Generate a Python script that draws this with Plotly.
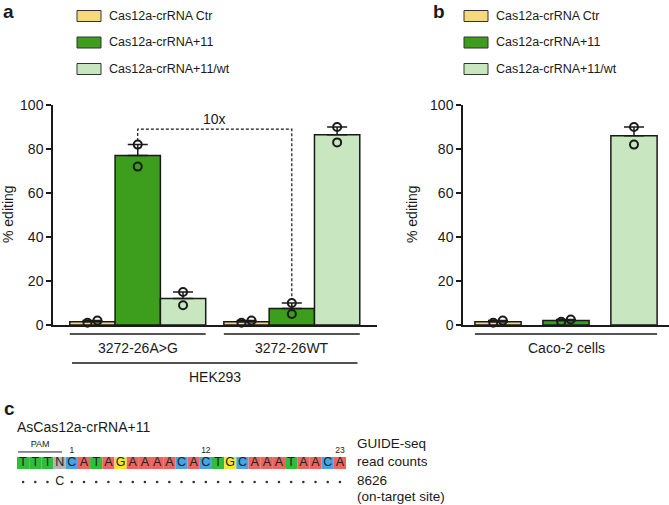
import numpy as np
import plotly.graph_objects as go

W, H = 669, 505
FONT = "Liberation Sans, Arial, sans-serif"

# ---- data ----
series = ["Cas12a-crRNA Ctr", "Cas12a-crRNA+11", "Cas12a-crRNA+11/wt"]
colors = ["#f6d97a", "#3c9e1c", "#c8e6bf"]

groups_a = ["3272-26A>G", "3272-26WT"]
cell_line_a = "HEK293"
# two replicates per group
ctr_a = [[1.0, 2.0], [1.0, 2.0]]
plus11_a = [[72.0, 82.0], [5.0, 10.0]]
wt_a = [[9.0, 15.0], [83.0, 90.0]]

group_b = "Caco-2 cells"
ctr_b = [1.0, 2.0]
plus11_b = [1.5, 2.5]
wt_b = [82.0, 90.0]

fold_label = "10x"
fold_level = 89

guide_name = "AsCas12a-crRNA+11"
pam = "TTTN"
protospacer = "CATAGAAAACACTGCAAATAACA"
site_row = "...C......................."
marked_positions = [1, 12, 23]
read_count = "8626"
base_colors = {"A": "#ef6363", "C": "#48a3e3", "G": "#f2e635",
               "T": "#2fbd3b", "N": "#b3b3b3"}


def px(x):
    return x / W


def py(y):
    return 1 - y / H


def sem(v):
    return float(np.std(v, ddof=1) / np.sqrt(len(v)))


def dodge(v, step):
    # side-by-side points when the replicates overlap
    if abs(v[1] - v[0]) < 3:
        order = np.argsort(v)
        offs = [0.0, 0.0]
        offs[order[0]] = -step
        offs[order[1]] = step
        return offs
    return [0.0, 0.0]


def note(text, x, y, xanchor="center", size=14, **kw):
    return dict(text=text, x=x, y=y, xanchor=xanchor, yanchor="middle",
                showarrow=False, font=dict(size=size), **kw)


fig = go.Figure()

# ---- panel a ----
group_gap = 3.4
reps_a = [ctr_a, plus11_a, wt_a]
for s, (name, col, reps) in enumerate(zip(series, colors, reps_a)):
    xs = [g * group_gap + s for g in range(len(groups_a))]
    means = [float(np.mean(r)) for r in reps]
    fig.add_trace(go.Bar(
        x=xs, y=means, width=1, marker_color=col,
        marker_line=dict(color="#1a1a1a", width=1.5),
        error_y=dict(type="data", symmetric=False, array=[sem(r) for r in reps],
                     arrayminus=[0] * len(reps), color="#1a1a1a",
                     thickness=1.5, width=10),
        xaxis="x", yaxis="y", showlegend=False, name=name,
    ))
    px_pts, py_pts = [], []
    for x, r in zip(xs, reps):
        for off, v in zip(dodge(r, 0.11), r):
            px_pts.append(x + off)
            py_pts.append(v)
    fig.add_trace(go.Scatter(
        x=px_pts, y=py_pts, mode="markers", cliponaxis=False,
        marker=dict(symbol="circle-open", size=8, color="#1a1a1a",
                    line=dict(width=2)),
        xaxis="x", yaxis="y", showlegend=False,
    ))

# dashed fold-change bracket between the two +11 bars
xa, xb = 1, group_gap + 1
fig.add_trace(go.Scatter(
    x=[xa, xa, xb, xb],
    y=[max(plus11_a[0]) + 1.6, fold_level, fold_level, max(plus11_a[1]) + 1.6],
    mode="lines", line=dict(color="#1a1a1a", width=1.2, dash="3px,2px"),
    xaxis="x", yaxis="y", showlegend=False, cliponaxis=False,
))

# ---- panel b ----
bar_w_b = 0.68
reps_b = [ctr_b, plus11_b, wt_b]
for s, (name, col, reps) in enumerate(zip(series, colors, reps_b)):
    fig.add_trace(go.Bar(
        x=[s], y=[float(np.mean(reps))], width=bar_w_b, marker_color=col,
        marker_line=dict(color="#1a1a1a", width=1.5),
        error_y=dict(type="data", symmetric=False, array=[sem(reps)],
                     arrayminus=[0], color="#1a1a1a", thickness=1.5, width=10),
        xaxis="x2", yaxis="y2", showlegend=False, name=name,
    ))
    offs = dodge(reps, 0.07)
    fig.add_trace(go.Scatter(
        x=[s + o for o in offs], y=reps, mode="markers", cliponaxis=False,
        marker=dict(symbol="circle-open", size=8, color="#1a1a1a",
                    line=dict(width=2)),
        xaxis="x2", yaxis="y2", showlegend=False,
    ))

# ---- panel c: sequence ----
seq = pam + protospacer
idx = list(range(len(seq)))
fig.add_trace(go.Bar(
    x=idx, y=[1] * len(seq), width=1,
    marker=dict(color=[base_colors[b] for b in seq], line=dict(width=0)),
    xaxis="x3", yaxis="y3", showlegend=False, hoverinfo="skip",
))
fig.add_trace(go.Scatter(
    x=idx, y=[0.5] * len(seq), mode="text", text=list(seq),
    textfont=dict(size=12.5, color="#222222", family=FONT),
    xaxis="x3", yaxis="y3", showlegend=False,
))
dot_x = [i for i, c in enumerate(site_row) if c == "."]
fig.add_trace(go.Scatter(
    x=dot_x, y=[-1.08] * len(dot_x), mode="markers",
    marker=dict(size=2.6, color="#333333"),
    xaxis="x3", yaxis="y3", showlegend=False, cliponaxis=False,
))
mm_x = [i for i, c in enumerate(site_row) if c != "."]
fig.add_trace(go.Scatter(
    x=mm_x, y=[-1.08] * len(mm_x), mode="text",
    text=[site_row[i] for i in mm_x],
    textfont=dict(size=12.5, color="#222222", family=FONT),
    xaxis="x3", yaxis="y3", showlegend=False, cliponaxis=False,
))
fig.add_trace(go.Scatter(
    x=[len(pam) - 1 + p for p in marked_positions], y=[1.55] * len(marked_positions),
    mode="text", text=[str(p) for p in marked_positions],
    textfont=dict(size=8.5, color="#222222", family=FONT),
    xaxis="x3", yaxis="y3", showlegend=False, cliponaxis=False,
))
fig.add_trace(go.Scatter(
    x=[-0.42, len(pam) - 0.8], y=[1.42, 1.42], mode="lines",
    line=dict(color="#222222", width=1),
    xaxis="x3", yaxis="y3", showlegend=False, cliponaxis=False,
))
fig.add_trace(go.Scatter(
    x=[(len(pam) - 1.2) / 2], y=[2.05], mode="text", text=["PAM"],
    textfont=dict(size=9, color="#222222", family=FONT),
    xaxis="x3", yaxis="y3", showlegend=False, cliponaxis=False,
))

annotations = []
shapes = []

# group underlines and labels, panel a
line_y = py(334)
for g, label in enumerate(groups_a):
    x0, x1 = g * group_gap - 0.5, g * group_gap + 2.5
    shapes.append(dict(type="line", xref="x", yref="paper", x0=x0, x1=x1,
                       y0=line_y, y1=line_y, line=dict(color="#1a1a1a", width=1.5)))
    annotations.append(note(label, g * group_gap + 1, py(348), xref="x", yref="paper"))
last = (len(groups_a) - 1) * group_gap
shapes.append(dict(type="line", xref="x", yref="paper", x0=-0.45, x1=last + 2.45,
                   y0=py(363), y1=py(363), line=dict(color="#1a1a1a", width=1.5)))
annotations.append(note(cell_line_a, last / 2 + 1, py(377), xref="x", yref="paper"))
annotations.append(dict(text=fold_label, xref="x", yref="y", x=(xa + xb) / 2,
                        y=fold_level, xanchor="center", yanchor="bottom",
                        showarrow=False, font=dict(size=14)))

# panel b group line
shapes.append(dict(type="line", xref="x2", yref="paper", x0=-bar_w_b / 2,
                   x1=len(series) - 1 + bar_w_b / 2, y0=line_y, y1=line_y,
                   line=dict(color="#1a1a1a", width=1.5)))
annotations.append(note(group_b, (len(series) - 1) / 2, py(348), xref="x2", yref="paper"))

# y titles
for xpos in (8, 412):
    annotations.append(note("% editing", px(xpos), py(214), xref="paper", yref="paper",
                            textangle=-90))

# legends
for lx in (77, 464):
    for i, (name, col) in enumerate(zip(series, colors)):
        cy = 16 + i * 26.5
        shapes.append(dict(type="rect", xref="paper", yref="paper",
                           x0=px(lx), x1=px(lx + 24), y0=py(cy + 5.5), y1=py(cy - 5.5),
                           fillcolor=col, line=dict(color="#333333", width=1)))
        annotations.append(note(name, px(lx + 30), py(cy), xanchor="left", size=12.5,
                                xref="paper", yref="paper"))

# panel letters
for letter, lx, ly in (("a", 1, 11), ("b", 431, 11), ("c", 2, 408)):
    annotations.append(note(f"<b>{letter}</b>", px(lx), py(ly), xanchor="left",
                            size=19, xref="paper", yref="paper"))

# panel c texts
annotations.append(note(guide_name, px(15), py(427), xanchor="left",
                        xref="paper", yref="paper"))
for txt, ty in (("GUIDE-seq", 443), ("read counts", 461), (read_count, 480),
                ("(on-target site)", 496)):
    annotations.append(note(txt, px(355), py(ty), xanchor="left", size=13.5,
                            xref="paper", yref="paper"))

yax = dict(range=[0, 100], tickvals=[0, 20, 40, 60, 80, 100], showline=True,
           linecolor="#1a1a1a", linewidth=1.5, ticks="outside", ticklen=5,
           tickwidth=1.5, tickcolor="#1a1a1a", showgrid=False, zeroline=False,
           tickfont=dict(size=14), domain=[py(325), py(105)], automargin=False)
xax = dict(showline=True, linecolor="#1a1a1a", linewidth=1.5, showticklabels=False,
           ticks="", showgrid=False, zeroline=False, automargin=False)

fig.update_layout(
    template="none",
    width=W, height=H,
    margin=dict(l=0, r=0, t=0, b=0, pad=0, autoexpand=False),
    paper_bgcolor="white", plot_bgcolor="white",
    font=dict(family=FONT, color="#1a1a1a", size=14),
    barmode="overlay",
    xaxis=dict(xax, domain=[px(53), px(377)], range=[-0.87, group_gap + 2.88]),
    yaxis=dict(yax, anchor="x"),
    xaxis2=dict(xax, domain=[px(463), 1], range=[-0.515, 2.515], anchor="y2"),
    yaxis2=dict(yax, anchor="x2"),
    xaxis3=dict(domain=[px(17), px(346)], range=[-0.5, len(seq) - 0.5], visible=False,
                anchor="y3", automargin=False),
    yaxis3=dict(domain=[py(487), py(439)], range=[-1.5, 2.5], visible=False,
                anchor="x3", automargin=False),
    annotations=annotations,
    shapes=shapes,
    hovermode=False,
)

fig.write_html(
    "out.html",
    config={"displayModeBar": False},
    post_script="document.body.style.margin='0';document.body.style.overflow='hidden';",
)
